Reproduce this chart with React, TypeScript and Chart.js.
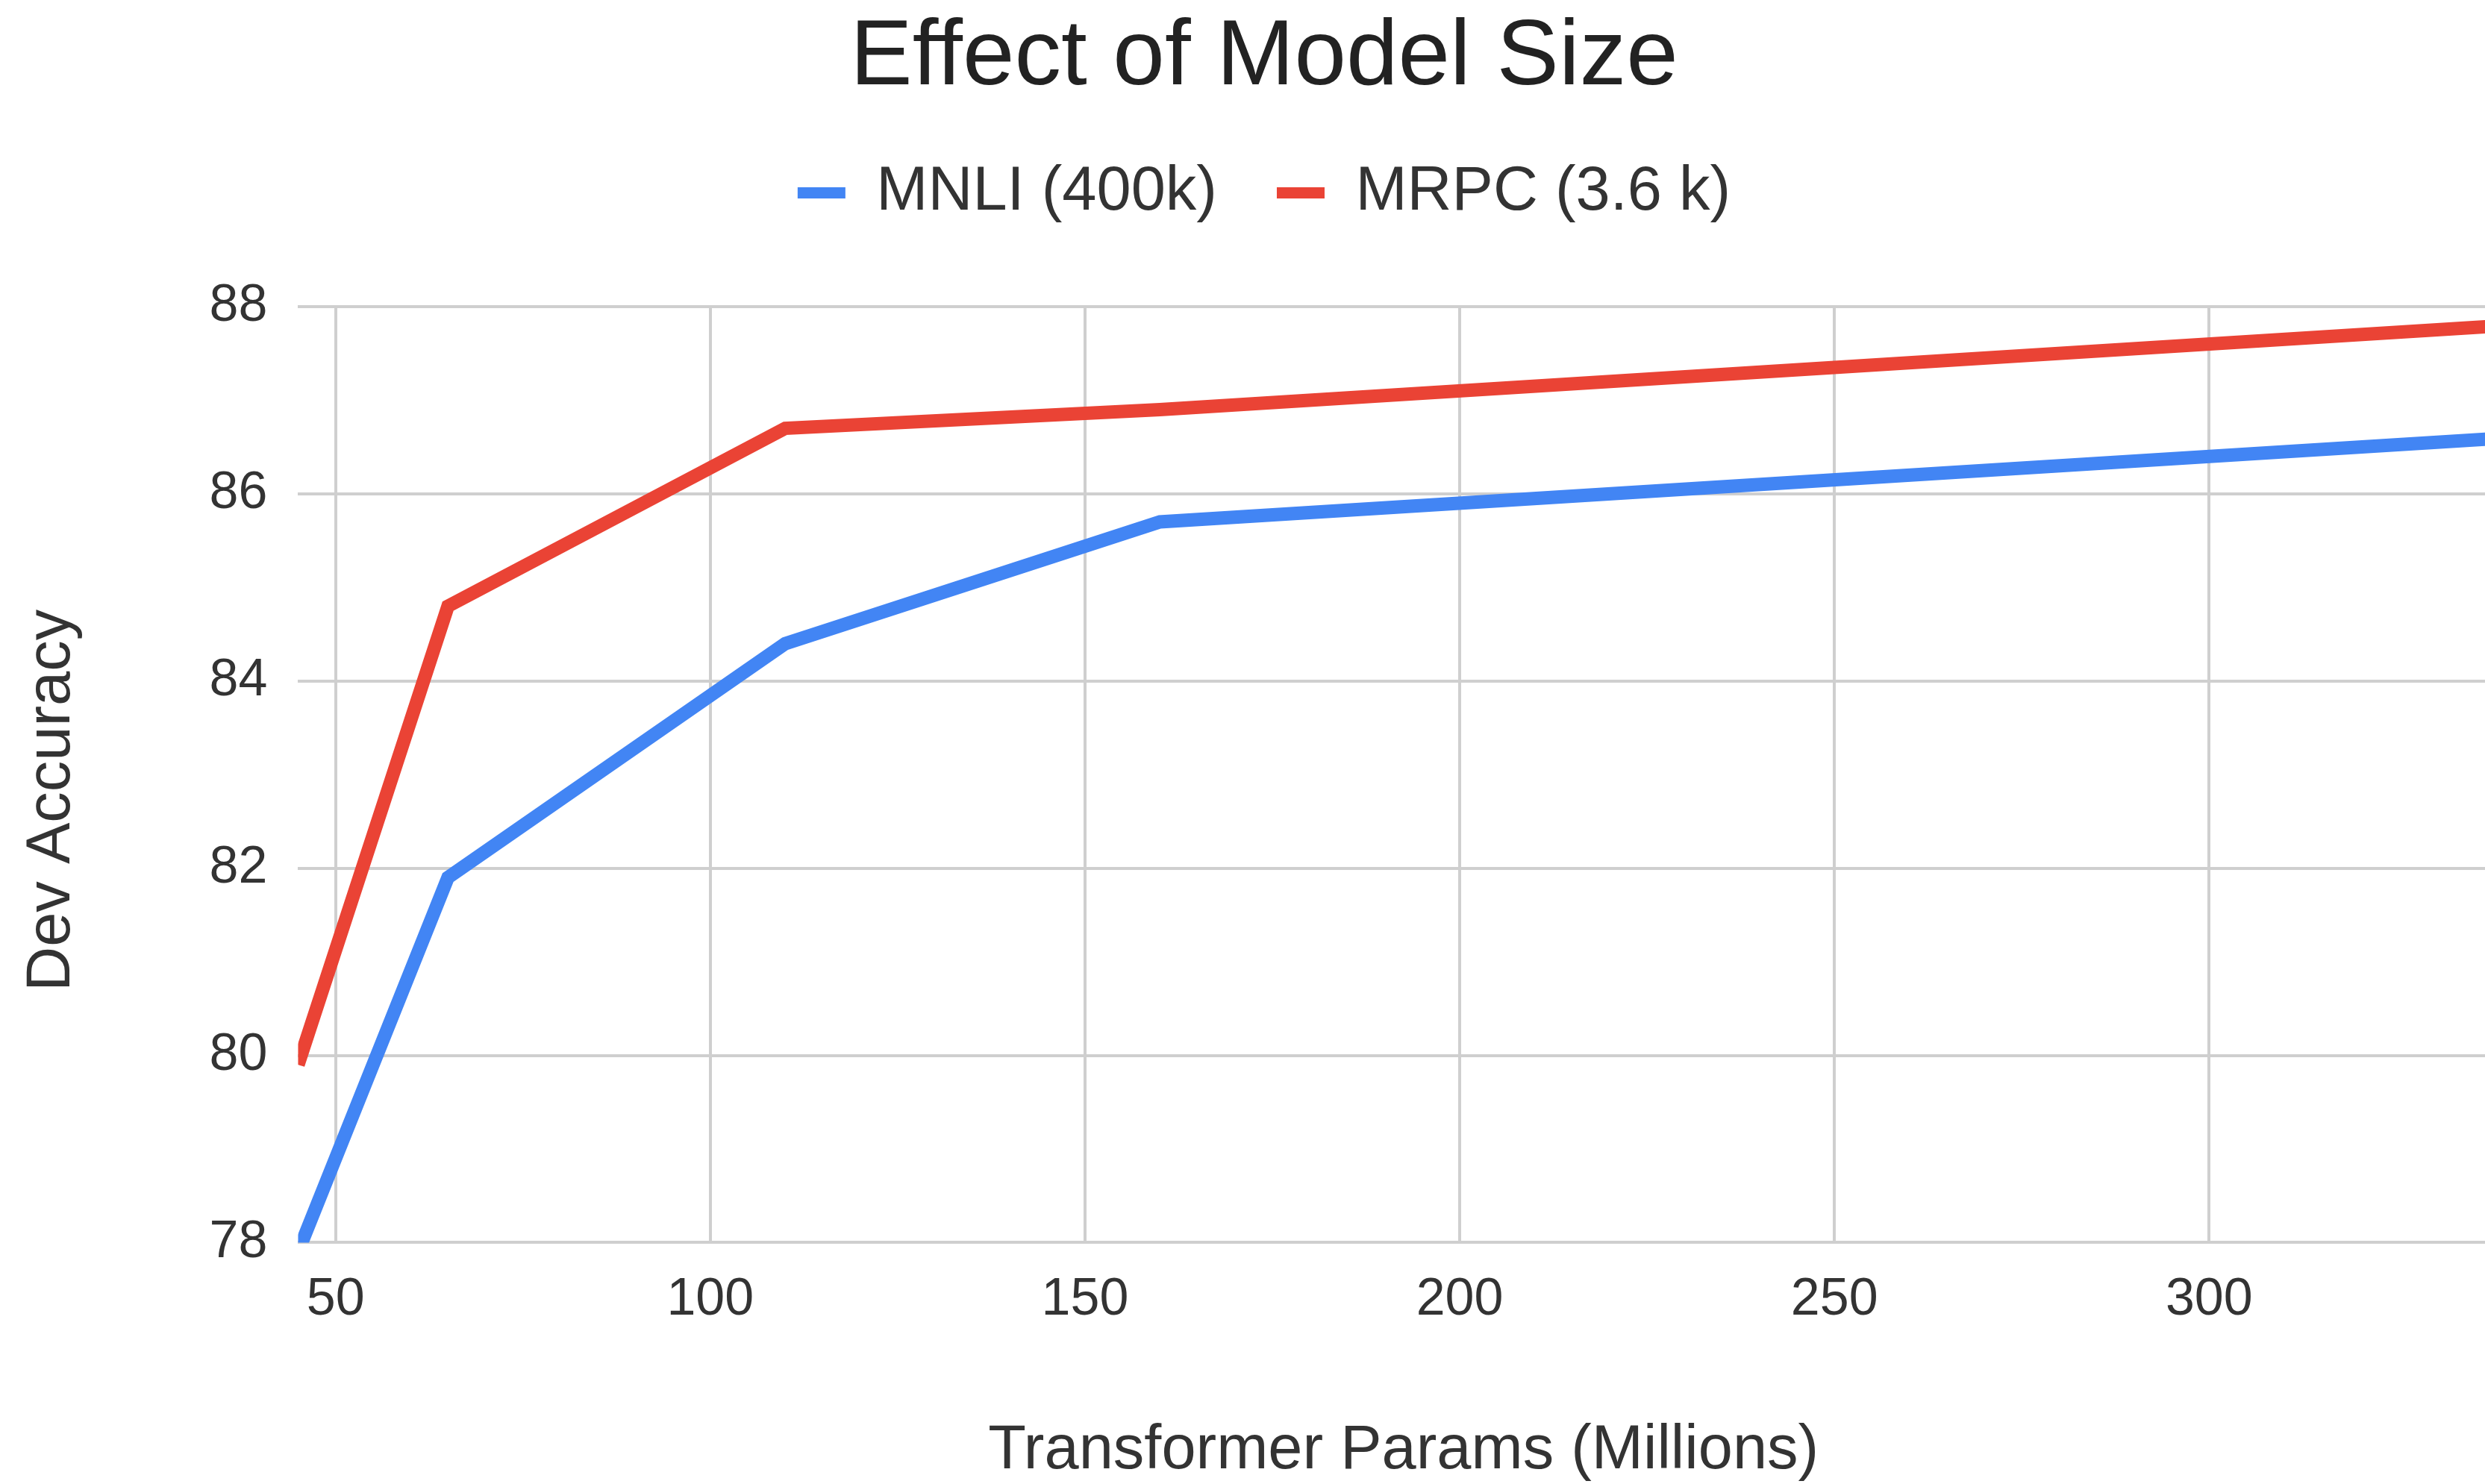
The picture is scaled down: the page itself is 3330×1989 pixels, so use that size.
import React, { useEffect, useRef } from 'react';
import { Chart, registerables } from 'chart.js';

Chart.register(...registerables);

const paramsMillions = [45, 65, 110, 160, 340];
const mnliAccuracy = [77.9, 81.9, 84.4, 85.7, 86.6];
const mrpcAccuracy = [79.9, 84.8, 86.7, 86.9, 87.8];
const seriesLabels = ['MNLI (400k)', 'MRPC (3.6 k)'];
const seriesColors = ['#4285F4', '#EA4335'];
const xTickValues = [50, 100, 150, 200, 250, 300];
const yTickValues = [78, 80, 82, 84, 86, 88];
const chartTitle = 'Effect of Model Size';
const xAxisTitle = 'Transformer Params (Millions)';
const yAxisTitle = 'Dev Accuracy   ';

const FONT = '"Liberation Sans", Arial, Helvetica, sans-serif';
const CANVAS_W = 3416;
const CANVAS_H = 1995;

const legendGap = {
  id: 'legendGap',
  beforeLayout(chart: any) {
    const legend = chart.legend;
    if (legend && !legend.__patched) {
      const orig = legend.fit;
      legend.fit = function () {
        orig.call(this);
        this.height += 101;
      };
      legend.__patched = true;
    }
  },
};

export default function App() {
  const canvasRef = useRef<HTMLCanvasElement | null>(null);

  useEffect(() => {
    if (!canvasRef.current) return;
    const toPoints = (ys: number[]) => paramsMillions.map((x, i) => ({ x, y: ys[i] }));
    const gridOpts = { color: '#cfcfcf', lineWidth: 4, drawTicks: false };
    const chart = new Chart(canvasRef.current, {
      type: 'line',
      data: {
        datasets: [
          {
            label: seriesLabels[0],
            data: toPoints(mnliAccuracy),
            borderColor: seriesColors[0],
            backgroundColor: seriesColors[0],
            borderWidth: 18,
            pointRadius: 0,
            tension: 0,
            clip: 0,
          },
          {
            label: seriesLabels[1],
            data: toPoints(mrpcAccuracy),
            borderColor: seriesColors[1],
            backgroundColor: seriesColors[1],
            borderWidth: 18,
            pointRadius: 0,
            tension: 0,
            clip: 0,
          },
        ],
      },
      options: {
        animation: false,
        responsive: false,
        devicePixelRatio: 1,
        layout: { padding: { left: 26, right: 54, top: 0, bottom: 0 } },
        plugins: {
          title: {
            display: true,
            text: chartTitle,
            color: '#222222',
            font: { family: FONT, size: 125, weight: 'normal', lineHeight: 0.928 },
            padding: { top: 21, bottom: 0 },
          },
          legend: {
            display: true,
            position: 'top',
            align: 'center',
            labels: {
              boxWidth: 64,
              boxHeight: 15,
              padding: 80,
              color: '#333333',
              font: { family: FONT, size: 83 },
              generateLabels: (c: any) =>
                c.data.datasets.map((ds: any, i: number) => ({
                  text: ds.label,
                  fillStyle: ds.borderColor,
                  strokeStyle: ds.borderColor,
                  lineWidth: 0,
                  hidden: false,
                  datasetIndex: i,
                  fontColor: '#333333',
                })),
            },
          },
          tooltip: { enabled: false },
        },
        scales: {
          x: {
            type: 'linear',
            min: 45,
            max: 340,
            afterBuildTicks: (s: any) => {
              s.ticks = xTickValues.map((v) => ({ value: v }));
            },
            grid: gridOpts,
            border: { display: false },
            ticks: { padding: 35, color: '#333333', font: { family: FONT, size: 70 }, maxRotation: 0 },
            title: {
              display: true,
              text: xAxisTitle,
              color: '#333333',
              font: { family: FONT, size: 83 },
              padding: { top: 76, bottom: 0 },
            },
          },
          y: {
            type: 'linear',
            min: 78,
            max: 88,
            afterBuildTicks: (s: any) => {
              s.ticks = yTickValues.map((v) => ({ value: v }));
            },
            grid: gridOpts,
            border: { display: false },
            ticks: { padding: 41, color: '#333333', font: { family: FONT, size: 70 } },
            title: {
              display: true,
              text: yAxisTitle,
              color: '#333333',
              font: { family: FONT, size: 83 },
              padding: { top: -6, bottom: 120 },
            },
          },
        },
      },
      plugins: [legendGap],
    } as any);
    return () => chart.destroy();
  }, []);

  return (
    <div
      style={{
        position: 'absolute',
        left: 0,
        top: 0,
        width: 3330,
        height: 1989,
        overflow: 'hidden',
        background: '#ffffff',
      }}
    >
      <canvas
        ref={canvasRef}
        width={CANVAS_W}
        height={CANVAS_H}
        style={{ display: 'block', width: CANVAS_W, height: CANVAS_H }}
      />
    </div>
  );
}
